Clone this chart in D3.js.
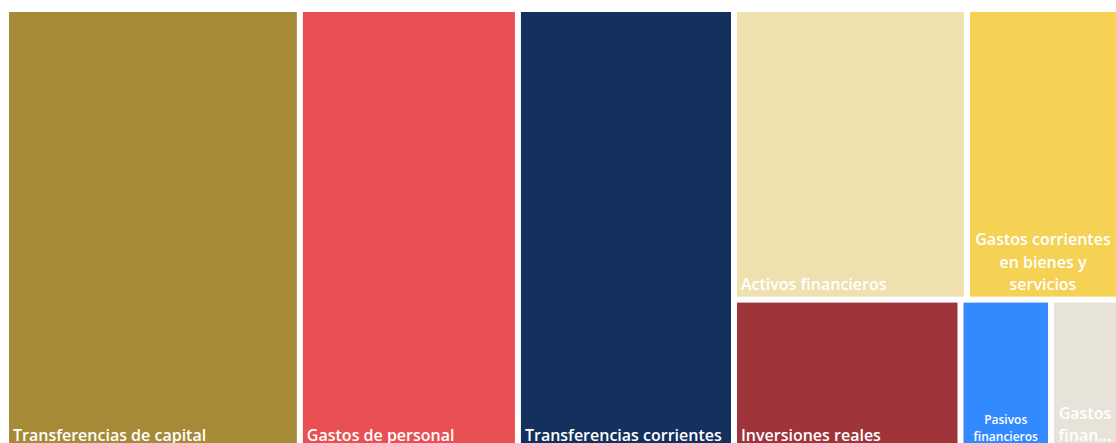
<!DOCTYPE html>
<html>
<head>
<meta charset="utf-8">
<script src="https://cdn.jsdelivr.net/npm/d3@7"></script>
<style>
  body { margin: 0; background: #fff; }
  text { font-family: "Segoe UI", "Open Sans", sans-serif; font-weight: 600; fill: #fff; }
</style>
</head>
<body>
<div id="chart"></div>
<script>
let width = 1116;
let height = 443;

// capítulos del presupuesto (millones)
const categories = ['Transferencias de capital', 'Gastos de personal', 'Transferencias corrientes',
    'Activos financieros', 'Gastos corrientes en bienes y servicios', 'Inversiones reales',
    'Pasivos financieros', 'Gastos financieros'];
const values = [129.9, 96.4, 95.5, 67.7, 44.2, 34.3, 13.7, 10.3];
const colors = ['#A68A38', '#E95053', '#13315C', '#EEE1AF', '#F5D154', '#A0343B', '#338AFF', '#E8E3D8'];

let svg = d3.select('#chart')
            .append('svg')
            .attr('width', width)
            .attr('height', height);

// squarify con ratio < 1 (d3 lo limita a 1)
function squarify(ratio) {
    return function(parent, x0, y0, x1, y1) {
        let nodes = parent.children, value = parent.value, i0 = 0, i1 = 0, n = nodes.length;
        while (i0 < n) {
            let dx = x1 - x0, dy = y1 - y0;
            let sum = nodes[i1++].value, minV = sum, maxV = sum;
            let alpha = Math.max(dy / dx, dx / dy) / (value * ratio);
            let beta = sum * sum * alpha;
            let minRatio = Math.max(maxV / beta, beta / minV);
            for (; i1 < n; ++i1) {
                let v = nodes[i1].value;
                sum += v;
                minV = Math.min(minV, v);
                maxV = Math.max(maxV, v);
                beta = sum * sum * alpha;
                let r = Math.max(maxV / beta, beta / minV);
                if (r > minRatio) { sum -= v; break; }
                minRatio = r;
            }
            let row = { value: sum, children: nodes.slice(i0, i1) };
            if (dx < dy) d3.treemapDice(row, x0, y0, x1, y0 += dy * sum / value);
            else d3.treemapSlice(row, x0, y0, x0 += dx * sum / value, y1);
            value -= sum;
            i0 = i1;
        }
    };
}

let data = categories.map((c, i) => ({ name: c, value: values[i], color: colors[i] }));

let root = d3.hierarchy({ children: data })
             .sum(d => d.value)
             .sort((a, b) => b.value - a.value);

d3.treemap()
  .tile(squarify(0.96))
  .size([1107, 436])
  .paddingInner(6)(root);

let g = svg.append('g').attr('transform', 'translate(9,12)');

let cells = g.selectAll('g')
             .data(root.leaves())
             .enter()
             .append('g')
             .attr('transform', d => `translate(${d.x0},${d.y0})`);

cells.append('rect')
     .attr('width', d => d.x1 - d.x0)
     .attr('height', d => d.y1 - d.y0)
     .attr('fill', d => d.data.color);

let measure = svg.append('text').attr('visibility', 'hidden');
function textWidth(s, size) {
    measure.style('font-size', size + 'px').text(s);
    return measure.node().getComputedTextLength();
}

cells.each(function(d) {
    let w = d.x1 - d.x0, h = d.y1 - d.y0;
    let avail = w - 6;
    let label = d.data.name;
    let size = 16;
    let cell = d3.select(this);

    if (textWidth(label, size) <= avail) {
        cell.append('text')
            .attr('x', 4)
            .attr('y', h - 7)
            .style('font-size', size + 'px')
            .text(label);
        return;
    }

    let words = label.split(' ');
    let longest = d3.max(words, wd => textWidth(wd, size));
    if (longest > avail && d3.max(words, wd => textWidth(wd, 12)) <= avail) size = 12;

    // partir en lineas
    let lines = [], cur = '';
    words.forEach(wd => {
        let t = cur ? cur + ' ' + wd : wd;
        if (cur && textWidth(t, size) > avail) { lines.push(cur); cur = wd; }
        else cur = t;
    });
    if (cur) lines.push(cur);
    lines = lines.map(l => {
        if (textWidth(l, size) <= avail) return l;
        let s = l;
        while (s.length > 1 && textWidth(s + '...', size) > avail) s = s.slice(0, -1);
        return s + '...';
    });

    let lh = size * 1.38;
    cell.append('text')
        .attr('text-anchor', 'middle')
        .style('font-size', size + 'px')
        .selectAll('tspan')
        .data(lines)
        .enter()
        .append('tspan')
        .attr('x', w / 2)
        .attr('y', (l, i) => h - 7 - (lines.length - 1 - i) * lh)
        .text(l => l);
});
measure.remove();
</script>
</body>
</html>
